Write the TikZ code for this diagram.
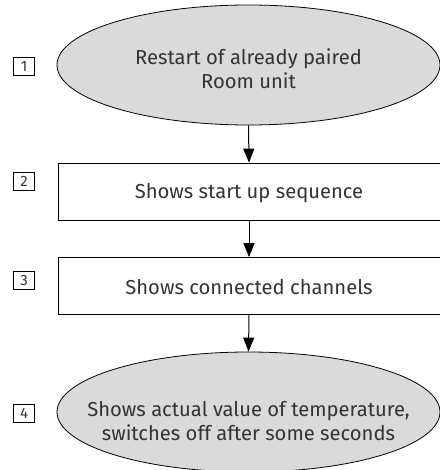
\documentclass[tikz,border=0pt]{standalone}
\usepackage{fontspec}
\setmainfont{Fira Sans}
\usetikzlibrary{shapes.geometric,arrows.meta}
\definecolor{ellfill}{HTML}{DADADA}
\definecolor{txt}{HTML}{333333}
\begin{document}
\begin{tikzpicture}[x=1pt,y=-1pt,
  ell/.style={draw,line width=0.8pt,fill=ellfill,ellipse,minimum width=383pt,minimum height=120pt,inner sep=0pt},
  lbl/.style={align=center,inner sep=0pt,font=\fontsize{20.2}{24}\selectfont,text=txt},
  stepbox/.style={draw,line width=0.8pt,rectangle,minimum width=382pt,minimum height=57pt,inner sep=0pt},
  numbox/.style={draw,line width=0.6pt,minimum width=21pt,minimum height=18pt,inner sep=0pt,font=\fontsize{15}{17}\selectfont,text=txt},
  arr/.style={line width=1pt,-{Triangle[width=11pt,length=14pt]}}]
\useasboundingbox (0,0) rectangle (439,470);
\node[ell] (e1) at (248.5,65) {};
\node[lbl] (t1) at (248.5,69) {Restart of already paired\\Room unit};
\node[stepbox] (b2) at (249,191.5) {};
\node[lbl] (t2) at (249,193) {Shows start up sequence};
\node[stepbox] (b3) at (249,286) {};
\node[lbl] (t3) at (249,287.5) {Shows connected channels};
\node[ell] (e4) at (248.5,412) {};
\node[lbl] (t4) at (248.5,421) {Shows actual value of temperature,\\switches off after some seconds};
\node[numbox] (n1) at (24,66) {1};
\node[numbox] (n2) at (24,181) {2};
\node[numbox] (n3) at (24,280) {3};
\node[numbox] (n4) at (24,413) {4};
\draw[arr] (e1.south) -- (b2.north);
\draw[arr] (b2.south) -- (b3.north);
\draw[arr] (b3.south) -- (e4.north);
\end{tikzpicture}
\end{document}
